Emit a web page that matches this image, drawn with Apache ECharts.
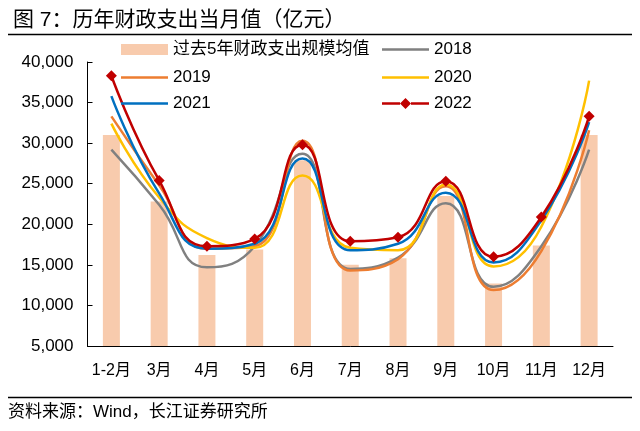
<!DOCTYPE html>
<html>
<head>
<meta charset="utf-8">
<script src="https://cdn.jsdelivr.net/npm/echarts@6/dist/echarts.min.js"></script>
<style>
html,body{margin:0;padding:0;background:#fff;}
#chart{width:640px;height:431px;}
</style>
</head>
<body>
<div id="chart"></div>
<script>
const categories = ['1-2月','3月','4月','5月','6月','7月','8月','9月','10月','11月','12月'];
const avgName = '过去5年财政支出规模均值';
const avg5y = [31000, 22800, 16200, 16900, 27900, 15000, 15800, 23500, 12700, 17400, 31000];
const y2018 = [29200, 22400, 14700, 17300, 28700, 14500, 15900, 22600, 12300, 17300, 29200];
const y2019 = [33300, 24800, 17000, 17300, 30300, 14300, 15700, 24700, 11900, 16700, 31600];
const y2020 = [32400, 23300, 18300, 17100, 26000, 17100, 16800, 24900, 14800, 19700, 37700];
const y2021 = [35800, 23800, 17000, 17600, 28100, 16800, 17600, 23900, 15300, 20500, 32600];
const y2022 = [38300, 25400, 17300, 18200, 29800, 17900, 18400, 25300, 16000, 20900, 33300];
const yTicks = {min: 5000, max: 40000, interval: 5000};

const FONT = '"Liberation Sans", "Noto Sans CJK SC", sans-serif';
const chart = echarts.init(document.getElementById('chart'), null, {renderer: 'canvas'});

function lineSeries(name, data, color, extra) {
  return Object.assign({
    name: name, type: 'line', data: data, smooth: 0.5,
    symbol: 'none', showSymbol: false,
    lineStyle: {color: color, width: 2.5},
    itemStyle: {color: color}
  }, extra || {});
}
// icon paths drawn in a 47x12 box (tiny corner squares keep the box size)
const plainLineIcon = 'path://M0,0H0.01V0.01H0Z M46.99,11.99H47V12H46.99Z M0,4.75H47V7.25H0Z';
const diamondLineIcon = 'path://M0,0H0.01V0.01H0Z M46.99,11.99H47V12H46.99Z M0,4.75H18V7.25H0Z M29,4.75H47V7.25H29Z M23.5,0.5L29,6L23.5,11.5L18,6Z';
function leg(name, left, top, icon, h) {
  return {
    data: [{name: name, icon: icon}], left: left, top: top,
    itemWidth: 47, itemHeight: h, itemGap: 0, symbolKeepAspect: false,
    textStyle: {fontSize: 17, color: '#000', fontFamily: FONT},
    padding: 0
  };
}

chart.setOption({
  animation: false,
  backgroundColor: '#fff',
  title: {
    text: '图 7：历年财政支出当月值（亿元）', left: 8, top: 5,
    textStyle: {fontSize: 21, fontWeight: 'normal', color: '#000', fontFamily: FONT}
  },
  graphic: [
    {type: 'line', shape: {x1: 8, y1: 34.5, x2: 632, y2: 34.5}, style: {stroke: '#000', lineWidth: 1.5}},
    {type: 'line', shape: {x1: 8, y1: 397.5, x2: 632, y2: 397.5}, style: {stroke: '#000', lineWidth: 1.5}},
    {type: 'text', left: 8, top: 404, style: {text: '资料来源：Wind，长江证券研究所', font: '17px ' + FONT, fill: '#000'}}
  ],
  legend: [
    leg(avgName, 121, 41, 'rect', 11),
    leg('2018', 382, 41, plainLineIcon, 12),
    leg('2019', 121, 69, plainLineIcon, 12),
    leg('2020', 382, 69, plainLineIcon, 12),
    leg('2021', 121, 95, plainLineIcon, 12),
    leg('2022', 382, 95, diamondLineIcon, 12)
  ],
  grid: {left: 87.5, right: 27, top: 62, bottom: 85, containLabel: false},
  xAxis: {
    type: 'category', data: categories, boundaryGap: true,
    axisLine: {lineStyle: {color: '#000', width: 1}},
    axisTick: {inside: true, length: 5, lineStyle: {color: '#000'}},
    axisLabel: {interval: 0, fontSize: 16, color: '#000', fontFamily: FONT, margin: 17}
  },
  yAxis: {
    type: 'value', min: yTicks.min, max: yTicks.max, interval: yTicks.interval,
    axisLine: {show: true, lineStyle: {color: '#000', width: 1}},
    axisTick: {show: true, inside: true, length: 5, lineStyle: {color: '#000'}},
    splitLine: {show: false},
    axisLabel: {fontSize: 17, color: '#000', fontFamily: FONT, margin: 14,
      formatter: v => v.toLocaleString('en-US')}
  },
  series: [
    {name: avgName, type: 'bar', data: avg5y, barWidth: 17, itemStyle: {color: '#F8CBAD'}},
    lineSeries('2018', y2018, '#808080'),
    lineSeries('2019', y2019, '#ED7D31'),
    lineSeries('2020', y2020, '#FFC000'),
    lineSeries('2021', y2021, '#0070C0'),
    lineSeries('2022', y2022, '#C00000', {symbol: 'diamond', showSymbol: true, symbolSize: 11})
  ]
});
</script>
</body>
</html>
